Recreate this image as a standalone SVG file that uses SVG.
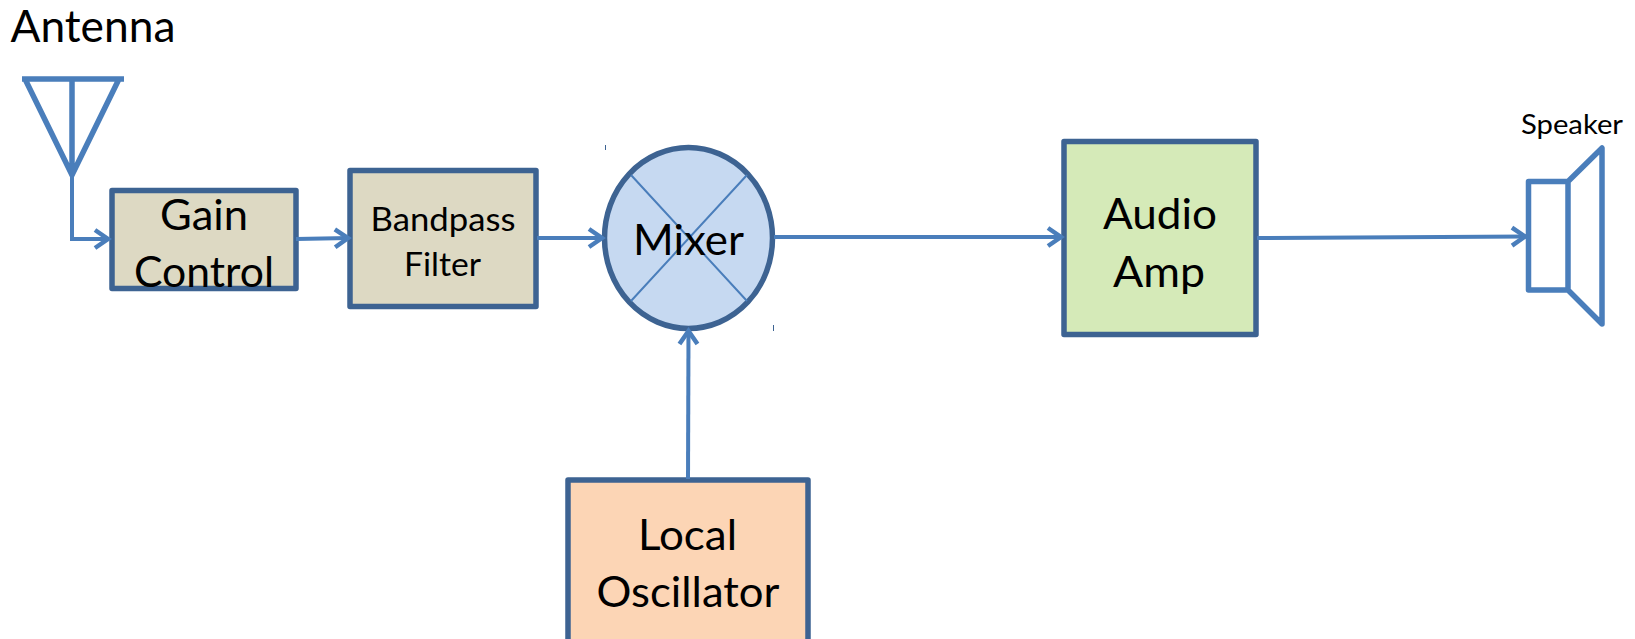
<svg xmlns="http://www.w3.org/2000/svg" width="1635" height="639" viewBox="0 0 1635 639">
<style>
.b{stroke:#3D6392;stroke-width:5.500;stroke-linejoin:round}
.t{font-family:Lato,"Open Sans",sans-serif;fill:#000;text-anchor:middle;font-size:43px}
.s{fill:none;stroke:#4A7EBB;stroke-width:5.500}
.c{fill:none;stroke:#4A7EBB;stroke-width:4}
.x{stroke:#4A7EBB;stroke-width:2;fill:none}
.k{stroke:#3D6392;stroke-width:1;fill:none}
</style>
<defs>
<marker id="a" markerUnits="userSpaceOnUse" markerWidth="22" markerHeight="26" refX="17" refY="12" orient="auto" overflow="visible">
<path d="M3 3L16 12L3 21" fill="none" stroke="#4A7EBB" stroke-width="4.500"/>
</marker>
</defs>
<g id="antenna">
<path class="s" d="M22 79H124M25 79L72 175L119 79M72 79V176"/>
<text class="t" x="93" y="42" style="font-size:44px" textLength="165" lengthAdjust="spacingAndGlyphs">Antenna</text>
</g>
<g id="speaker">
<path class="s" stroke-linejoin="round" d="M1528.500 181.500H1568V290H1528.500ZM1568 181.500L1602 148V324L1568 290"/>
<text class="t" x="1572" y="134" style="font-size:26px" textLength="102" lengthAdjust="spacingAndGlyphs">Speaker</text>
</g>
<g id="gain-control">
<rect class="b" x="112" y="190.500" width="184" height="98" fill="#DDD9C3"/>
<text class="t" x="204" y="230" textLength="88" lengthAdjust="spacingAndGlyphs">Gain</text>
<text class="t" x="204" y="287" textLength="140" lengthAdjust="spacingAndGlyphs">Control</text>
</g>
<g id="bandpass-filter">
<rect class="b" x="350" y="170.500" width="186" height="136" fill="#DDD9C3"/>
<text class="t" x="443" y="231" style="font-size:33px" textLength="145" lengthAdjust="spacingAndGlyphs">Bandpass</text>
<text class="t" x="442.500" y="276" style="font-size:33px" textLength="77" lengthAdjust="spacingAndGlyphs">Filter</text>
</g>
<g id="mixer">
<ellipse class="b" cx="688.500" cy="238" rx="84" ry="90.500" fill="#C6D9F1"/>
<path class="x" d="M631 175L747 301M747 175L631 301"/>
<path class="k" d="M605.500 145V150M773.500 325V331"/>
<text class="t" x="688.500" y="255" textLength="111" lengthAdjust="spacingAndGlyphs">Mixer</text>
</g>
<g id="audio-amp">
<rect class="b" x="1064" y="141.500" width="192" height="193" fill="#D5EAB8"/>
<text class="t" x="1160" y="229" textLength="114" lengthAdjust="spacingAndGlyphs">Audio</text>
<text class="t" x="1159" y="287" textLength="92" lengthAdjust="spacingAndGlyphs">Amp</text>
</g>
<g id="local-oscillator">
<rect class="b" x="568" y="480" width="240" height="170" fill="#FCD5B5"/>
<text class="t" x="687.500" y="550" textLength="99" lengthAdjust="spacingAndGlyphs">Local</text>
<text class="t" x="688" y="607" textLength="183" lengthAdjust="spacingAndGlyphs">Oscillator</text>
</g>
<g id="connectors">
<path class="c" d="M72 175V239H109" marker-end="url(#a)"/>
<path class="c" d="M296 239L349 238" marker-end="url(#a)"/>
<path class="c" d="M537 238H603" marker-end="url(#a)"/>
<path class="c" d="M774 237H1062" marker-end="url(#a)"/>
<path class="c" d="M1257 238L1526 236.500" marker-end="url(#a)"/>
<path class="c" d="M688 479L688.500 330" marker-end="url(#a)"/>
</g>
</svg>
